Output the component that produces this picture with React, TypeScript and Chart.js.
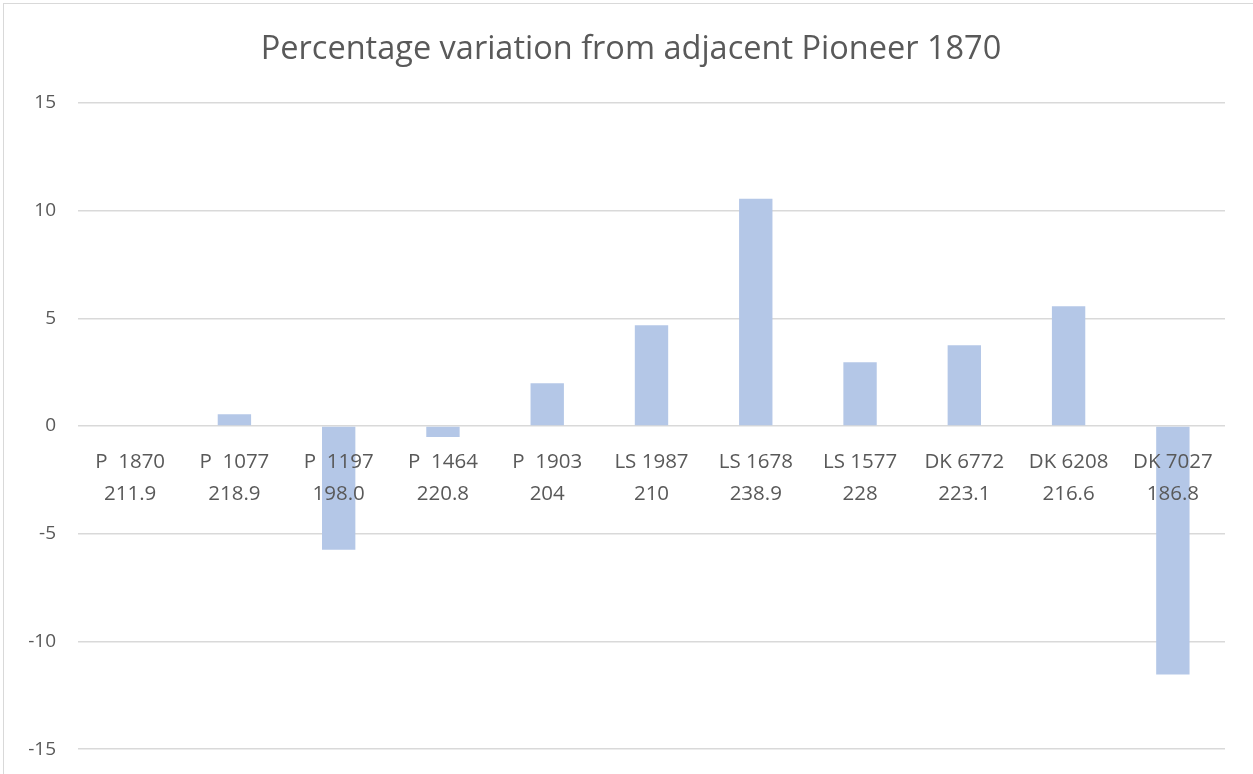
import React, { useEffect, useRef } from "react";
import { Chart, registerables } from "chart.js";

Chart.register(...registerables);

const varieties = ["P  1870", "P  1077", "P  1197", "P  1464", "P  1903", "LS 1987", "LS 1678", "LS 1577", "DK 6772", "DK 6208", "DK 7027"];
const yields = ["211.9", "218.9", "198.0", "220.8", "204", "210", "238.9", "228", "223.1", "216.6", "186.8"];
const variation = [0, 0.55, -5.74, -0.51, 1.99, 4.68, 10.56, 2.96, 3.75, 5.56, -11.53];
const yTicks = [-15, -10, -5, 0, 5, 10, 15];

const titleText = "Percentage variation from adjacent Pioneer 1870";
const FONT = "'Open Sans', 'Noto Sans', sans-serif";

export default function App() {
  const ref = useRef<HTMLCanvasElement | null>(null);

  useEffect(() => {
    document.body.style.margin = "0";
    const labels = varieties.map((v, i) => [v, yields[i]]);
    const chart = new Chart(ref.current as HTMLCanvasElement, {
      type: "bar",
      data: {
        labels,
        datasets: [
          {
            label: "Variation",
            data: variation,
            backgroundColor: "#B4C7E7",
            borderWidth: 0,
            barPercentage: 0.64,
            categoryPercentage: 0.5,
            yAxisID: "y",
          },
        ],
      },
      options: {
        animation: false,
        responsive: false,
        layout: { padding: { left: 15, right: 6, top: 0, bottom: 0 } },
        plugins: {
          legend: { display: false },
          tooltip: { enabled: false },
          title: {
            display: true,
            text: titleText,
            color: "#595959",
            font: { family: FONT, size: 32.5, weight: "normal" },
            padding: { top: 30, bottom: 34 },
          },
        },
        scales: {
          x: {
            position: { y: 0 },
            grid: { display: false, drawTicks: false },
            border: { display: false },
            ticks: {
              z: 1,
              color: "#595959",
              font: { family: FONT, size: 20.5, lineHeight: 1.52 },
              padding: 21,
              maxRotation: 0,
              autoSkip: false,
            },
          },
          y: {
            position: "left",
            min: -15,
            max: 15,
            afterBuildTicks: (scale: any) => {
              scale.ticks = yTicks.map((v) => ({ value: v }));
            },
            afterFit: (scale: any) => {
              scale.width = 63;
            },
            grid: { color: "#d9d9d9", lineWidth: 1.5, drawTicks: false },
            border: { display: false },
            ticks: {
              color: "#595959",
              font: { family: FONT, size: 19, lineHeight: 0.3 },
              padding: 22,
            },
          },
          yRight: {
            position: "right",
            display: true,
            afterFit: (scale: any) => {
              scale.width = 22;
            },
            grid: { display: false, drawOnChartArea: false, drawTicks: false },
            border: { display: false },
            ticks: { display: false },
          },
        },
      },
    });
    return () => chart.destroy();
  }, []);

  return (
    <div style={{ position: "relative", width: 1253, height: 774, overflow: "hidden", background: "#fff" }}>
      <div
        style={{
          position: "absolute",
          left: 3,
          top: 3,
          width: 1270,
          height: 790,
          border: "1px solid #d9d9d9",
          boxSizing: "border-box",
        }}
      />
      <canvas ref={ref} width={1253} height={774} style={{ position: "absolute", left: 0, top: 0, display: "block" }} />
    </div>
  );
}
